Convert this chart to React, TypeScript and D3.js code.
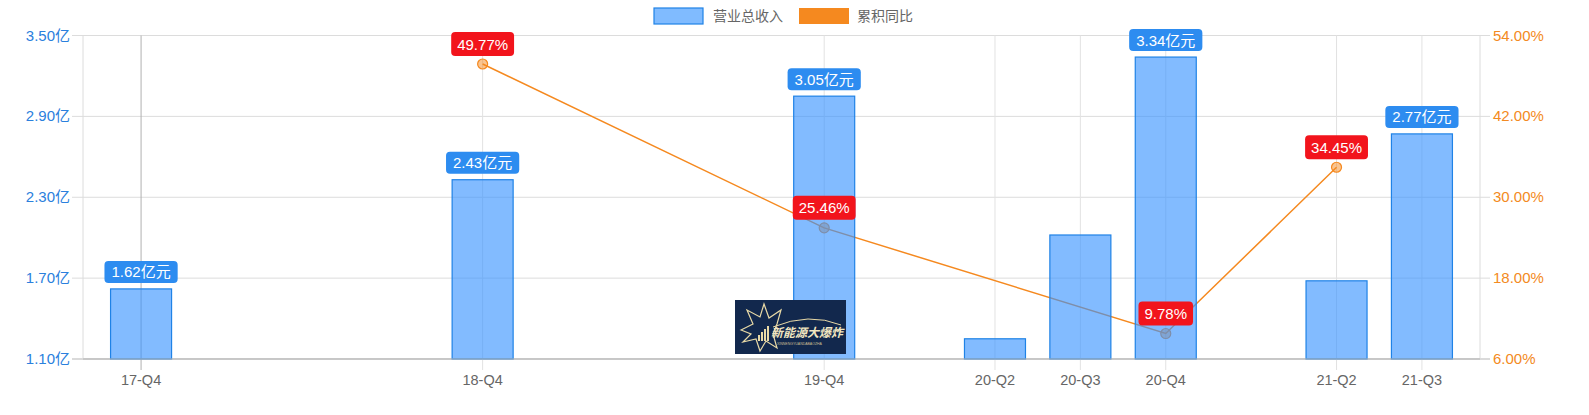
import React, { useEffect, useRef } from 'react';
import * as d3 from 'd3';

// all quarters on the x axis, only some have data
const quarters = [
  '17-Q4', '18-Q1', '18-Q2', '18-Q3', '18-Q4', '19-Q1', '19-Q2', '19-Q3',
  '19-Q4', '20-Q1', '20-Q2', '20-Q3', '20-Q4', '21-Q1', '21-Q2', '21-Q3',
];

const barQuarters = ['17-Q4', '18-Q4', '19-Q4', '20-Q2', '20-Q3', '20-Q4', '21-Q2', '21-Q3'];
const revenue = [1.62, 2.43, 3.05, 1.25, 2.02, 3.34, 1.68, 2.77];
const labeledBars = ['17-Q4', '18-Q4', '19-Q4', '20-Q4', '21-Q3'];

const lineQuarters = ['18-Q4', '19-Q4', '20-Q4', '21-Q2'];
const yoy = [49.77, 25.46, 9.78, 34.45];

const leftTicks = [1.1, 1.7, 2.3, 2.9, 3.5];
const rightTicks = [6, 18, 30, 42, 54];

const seriesNames = ['营业总收入', '累积同比'];

const FONT = '"Liberation Sans", Arial, "Noto Sans CJK SC", sans-serif';

const App: React.FC = () => {
  const svgRef = useRef<SVGSVGElement>(null);

  useEffect(() => {
    if (!svgRef.current) return;
    const svg = d3.select(svgRef.current);
    svg.selectAll('*').remove();

    const width = 1589;
    const height = 415;
    const left = 83;
    const right = 1480;
    const top = 35.5;
    const bottom = 359;

    svg.attr('width', width).attr('height', height);

    const x = d3.scalePoint<string>().domain(quarters).range([left, right]).padding(0.68);
    const yL = d3.scaleLinear().domain([1.1, 3.5]).range([bottom, top]);
    const yR = d3.scaleLinear().domain([6, 54]).range([bottom, top]);

    const g = svg.append('g').style('font-family', FONT);

    // horizontal grid + tick marks
    g.selectAll('.hgrid')
      .data(leftTicks)
      .enter()
      .append('line')
      .attr('x1', left - 11)
      .attr('x2', right + 10)
      .attr('y1', d => yL(d))
      .attr('y2', d => yL(d))
      .attr('stroke', (d, i) => (i === 0 ? '#b5b5b5' : '#dcdcdc'))
      .attr('stroke-width', 1);

    // vertical edges
    [left, right].forEach(xx => {
      g.append('line')
        .attr('x1', xx).attr('x2', xx)
        .attr('y1', top).attr('y2', bottom)
        .attr('stroke', '#dcdcdc');
    });

    // vertical grid at labeled quarters
    g.selectAll('.vgrid')
      .data(barQuarters)
      .enter()
      .append('line')
      .attr('x1', d => x(d) as number)
      .attr('x2', d => x(d) as number)
      .attr('y1', top)
      .attr('y2', bottom + 11)
      .attr('stroke', (d, i) => (i === 0 ? '#b0b0b0' : '#e2e2e2'));

    // left axis labels
    g.selectAll('.ltick')
      .data(leftTicks)
      .enter()
      .append('text')
      .attr('x', 70)
      .attr('y', d => yL(d) + 5)
      .attr('text-anchor', 'end')
      .attr('fill', '#2b80dd')
      .style('font-size', '15px')
      .text(d => `${d.toFixed(2)}亿`);

    // right axis labels
    g.selectAll('.rtick')
      .data(rightTicks)
      .enter()
      .append('text')
      .attr('x', 1493)
      .attr('y', d => yR(d) + 5)
      .attr('fill', '#f38a22')
      .style('font-size', '15px')
      .text(d => `${d.toFixed(2)}%`);

    // x labels
    g.selectAll('.xtick')
      .data(barQuarters)
      .enter()
      .append('text')
      .attr('x', d => x(d) as number)
      .attr('y', 385)
      .attr('text-anchor', 'middle')
      .attr('fill', '#666')
      .style('font-size', '14.5px')
      .text(d => d);

    // line series (drawn beneath the translucent bars)
    const orange = '#f5891f';
    const pts = lineQuarters.map((q, i) => ({ q, v: yoy[i] }));
    const line = d3.line<{ q: string; v: number }>()
      .x(d => x(d.q) as number)
      .y(d => yR(d.v));
    g.append('path')
      .datum(pts)
      .attr('d', line)
      .attr('fill', 'none')
      .attr('stroke', orange)
      .attr('stroke-width', 1.5);
    g.selectAll('.pt')
      .data(pts)
      .enter()
      .append('circle')
      .attr('cx', d => x(d.q) as number)
      .attr('cy', d => yR(d.v))
      .attr('r', 5)
      .attr('fill', 'rgba(245,137,31,0.5)')
      .attr('stroke', orange)
      .attr('stroke-width', 1.2);

    // bars
    const barW = 61;
    const bars = barQuarters.map((q, i) => ({ q, v: revenue[i] }));
    g.selectAll('.bar')
      .data(bars)
      .enter()
      .append('rect')
      .attr('x', d => (x(d.q) as number) - barW / 2)
      .attr('y', d => yL(d.v))
      .attr('width', barW)
      .attr('height', d => bottom - yL(d.v))
      .attr('fill', 'rgba(54,146,255,0.62)')
      .attr('stroke', '#1f82e6')
      .attr('stroke-width', 1.2);

    // bottom axis line on top
    g.append('line')
      .attr('x1', left).attr('x2', right)
      .attr('y1', bottom).attr('y2', bottom)
      .attr('stroke', '#b5b5b5');

    // watermark logo
    const logo = g.append('g').attr('transform', 'translate(735,300)');
    logo.append('rect').attr('width', 111).attr('height', 54).attr('fill', '#12284d');
    const star = [
      [6, 30], [18, 24], [12, 10], [25, 17], [29, 4], [34, 18], [46, 10], [42, 24],
      [38, 34], [42, 48], [31, 41], [25, 51], [21, 39], [8, 42], [16, 34],
    ];
    logo.append('polygon')
      .attr('points', star.map(p => p.join(',')).join(' '))
      .attr('fill', 'none')
      .attr('stroke', '#e8d9a6')
      .attr('stroke-width', 1.2);
    [0, 1, 2, 3].forEach(i => {
      logo.append('rect')
        .attr('x', 23 + i * 3)
        .attr('y', 35 - i * 3)
        .attr('width', 2)
        .attr('height', 6 + i * 3)
        .attr('fill', '#e8d9a6');
    });
    logo.append('path')
      .attr('d', 'M38,27 Q74,12 106,25')
      .attr('fill', 'none')
      .attr('stroke', '#e8d9a6')
      .attr('stroke-width', 1);
    logo.append('text')
      .attr('x', 36)
      .attr('y', 37)
      .attr('fill', '#f1e6c0')
      .style('font-size', '12px')
      .style('font-weight', 'bold')
      .style('font-style', 'italic')
      .style('font-family', '"Noto Sans CJK SC", sans-serif')
      .text('新能源大爆炸');
    logo.append('text')
      .attr('x', 42)
      .attr('y', 45)
      .attr('fill', '#c9bd93')
      .style('font-size', '3.5px')
      .text('XINNENGYUANDABAOZHA');

    // label helper
    const addLabel = (cx: number, bottomY: number, text: string, fill: string, h: number, pad: number) => {
      const lg = g.append('g');
      const t = lg.append('text')
        .attr('x', cx)
        .attr('text-anchor', 'middle')
        .attr('fill', '#fff')
        .style('font-size', '15px')
        .text(text);
      const w = (t.node() as SVGTextElement).getComputedTextLength() + pad * 2;
      t.attr('y', bottomY - h / 2 + 5.5);
      lg.insert('rect', 'text')
        .attr('x', cx - w / 2)
        .attr('y', bottomY - h)
        .attr('width', w)
        .attr('height', h)
        .attr('rx', 4)
        .attr('fill', fill);
    };

    bars
      .filter(d => labeledBars.includes(d.q))
      .forEach(d => addLabel(x(d.q) as number, yL(d.v) - 6, `${d.v.toFixed(2)}亿元`, '#2d8cf0', 22, 7));

    pts.forEach(d => addLabel(x(d.q) as number, yR(d.v) - 8, `${d.v.toFixed(2)}%`, '#f2141c', 24, 6));

    // legend
    const leg = g.append('g');
    leg.append('rect').attr('x', 654).attr('y', 8).attr('width', 49).attr('height', 16)
      .attr('fill', '#80bbff').attr('stroke', '#1f82e6').attr('stroke-width', 1.2);
    leg.append('text').attr('x', 713).attr('y', 21).attr('fill', '#666')
      .style('font-size', '14px').style('font-family', '"Noto Sans CJK SC", sans-serif').text(seriesNames[0]);
    leg.append('rect').attr('x', 799).attr('y', 8).attr('width', 50).attr('height', 16)
      .attr('fill', orange);
    leg.append('text').attr('x', 857).attr('y', 21).attr('fill', '#666')
      .style('font-size', '14px').style('font-family', '"Noto Sans CJK SC", sans-serif').text(seriesNames[1]);
  }, []);

  return (
    <svg ref={svgRef} style={{ position: 'absolute', left: 0, top: 0, background: '#fff' }}></svg>
  );
};

export default App;
